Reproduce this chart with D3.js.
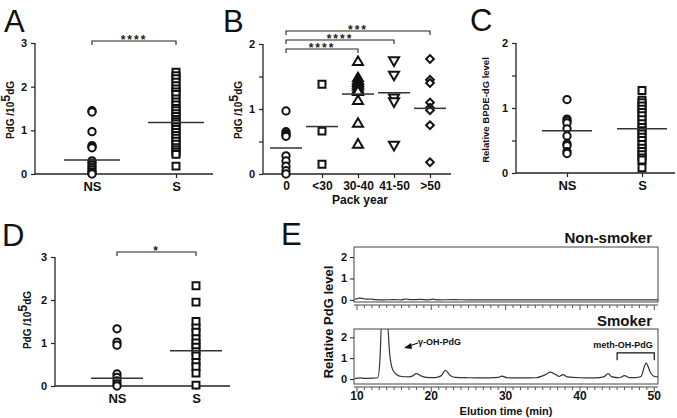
<!DOCTYPE html>
<html>
<head>
<meta charset="utf-8">
<script src="https://cdn.jsdelivr.net/npm/d3@7"></script>
<style>
  html, body { margin: 0; padding: 0; background: #fff; }
  svg { display: block; font-family: "Liberation Sans", Arial, Helvetica, sans-serif; }
  .tick line, .domain { stroke: #222; }
</style>
</head>
<body>
<svg id="fig" width="677" height="418"></svg>
<script>
// ---- panel A: PdG in NS vs S
const aCats = ["NS", "S"];
const aNS = [1.45, 1.42, 0.97, 0.65, 0.62, 0.6, 0.3, 0.25, 0.2, 0.15, 0.1, 0.05, 0.02, 0];
const aS = [2.33, 2.25, 2.18, 2.1, 2.02, 1.95, 1.88, 1.82, 1.72, 1.65, 1.58, 1.5, 1.45, 1.38, 1.32,
  1.25, 1.2, 1.15, 1.08, 1.02, 0.95, 0.88, 0.82, 0.75, 0.68, 0.6, 0.55, 0.5, 0.45, 0.18];
const aMeans = [0.32, 1.18];
const aBrackets = [["NS", "S", "****"]];

// ---- panel B: by pack year
const bCats = ["0", "<30", "30-40", "41-50", ">50"];
const b0 = [0.97, 0.65, 0.62, 0.6, 0.58, 0.28, 0.2, 0.12, 0.05, 0];
const bLt30 = [1.38, 0.66, 0.15];
const b3040 = [1.72, 1.47, 1.43, 1.4, 1.37, 1.34, 1.3, 1.26, 1.12, 0.77, 0.45];
const b4150 = [1.75, 1.53, 1.18, 1.12, 0.45];
const bGt50 = [1.77, 1.45, 1.4, 1.1, 1.02, 0.98, 0.75, 0.18];
const bMeans = [0.4, 0.73, 1.23, 1.25, 1.01];
const bBrackets = [["0", ">50", "***"], ["0", "41-50", "****"], ["0", "30-40", "****"]];

// ---- panel C: BPDE-dG
const cCats = ["NS", "S"];
const cNS = [1.13, 0.83, 0.8, 0.77, 0.68, 0.57, 0.45, 0.42, 0.33, 0.3];
const cS = [1.27, 1.12, 1.08, 1.03, 0.98, 0.93, 0.88, 0.82, 0.76, 0.7, 0.65, 0.6, 0.55, 0.5,
  0.44, 0.38, 0.33, 0.28, 0.23, 0.2, 0.08];
const cMeans = [0.65, 0.68];

// ---- panel D: PdG second cohort
const dCats = ["NS", "S"];
const dNS = [1.33, 1.02, 0.95, 0.28, 0.2, 0.12, 0.05, 0];
const dS = [2.33, 1.95, 1.5, 1.35, 1.25, 1.1, 1.0, 0.9, 0.8, 0.7, 0.55, 0.45, 0.3, 0.02];
const dMeans = [0.18, 0.82];
const dBrackets = [["NS", "S", "*"]];

// ---- panel E: chromatograms (time in min, relative level)
const eNonTime = [9.7, 10, 10.3, 10.7, 11.2, 11.8, 12.5, 13.5, 15, 16, 16.6, 17.2, 18.5, 19.5, 20.2, 21,
  23, 25, 27, 30, 33, 36, 39, 42, 45, 48, 50.5];
const eNonVal = [0.02, 0.05, 0.08, 0.07, 0.03, 0.04, 0.01, 0.0, 0.01, 0.0, 0.04, 0.01, 0.02, 0.0, 0.03,
  0.0, 0.01, 0.0, 0.0, 0.0, 0.0, 0.0, 0.0, 0.0, 0.0, 0.0, 0.0];
const eSmkTime = [9.7, 10.5, 11, 12, 12.8, 13.1, 13.3, 14.1, 14.4, 14.8, 15.3, 16, 17, 17.5, 18, 18.6,
  19.3, 20.5, 21.3, 21.9, 22.5, 23.2, 25, 27, 29, 29.5, 30.2, 32, 34, 35.3, 36, 36.8, 37.2, 37.7,
  38.3, 40, 42, 43.2, 43.8, 44.3, 45.3, 46, 46.6, 47.5, 48.2, 48.9, 49.5, 50, 50.5];
const eSmkVal = [0.02, 0.05, 0.03, 0.04, 0.06, 1.0, 2.6, 2.6, 1.2, 0.45, 0.22, 0.12, 0.1, 0.15, 0.26, 0.15,
  0.08, 0.07, 0.15, 0.42, 0.18, 0.08, 0.06, 0.05, 0.08, 0.14, 0.06, 0.05, 0.06, 0.2, 0.33, 0.2, 0.12, 0.21,
  0.1, 0.06, 0.05, 0.1, 0.26, 0.1, 0.06, 0.16, 0.07, 0.07, 0.12, 0.76, 0.3, 0.12, 0.1];
const eTicks = [10, 20, 30, 40, 50];
const eYTicks = [0, 1, 2];

const svg = d3.select("#fig");
const FONT = '"Liberation Sans", Arial, Helvetica, sans-serif';

function shape(kind) {
  if (kind === "circle") return d3.symbol(d3.symbolCircle, 42)();
  if (kind === "square") return d3.symbol(d3.symbolSquare, 48)();
  if (kind === "diamond") return d3.symbol(d3.symbolSquare, 30)();
  return d3.symbol(d3.symbolTriangle, 44)();
}
function rotation(kind) {
  if (kind === "diamond") return 45;
  if (kind === "down") return 180;
  return 0;
}

function panelLetter(text, x, y) {
  svg.append("text").attr("x", x).attr("y", y)
    .attr("font-size", 31).attr("font-family", FONT).attr("fill", "#111").text(text);
}

// rotated y title, parts = [text, shift] where shift moves the part up (superscript)
function yTitle(g, parts, x, y, size) {
  const t = g.append("text")
    .attr("transform", `translate(${x},${y}) rotate(-90)`)
    .attr("text-anchor", "middle")
    .attr("font-weight", "bold").attr("font-size", size).attr("fill", "#111");
  let prev = 0;
  parts.forEach(([s, shift]) => {
    const ts = t.append("tspan").text(s);
    const cur = shift || 0;
    if (cur !== prev) ts.attr("dy", prev - cur);
    if (cur) ts.attr("font-size", size * 1.25);
    prev = cur;
  });
}

function scatterPanel(cfg) {
  const g = svg.append("g");
  const x = d3.scalePoint().domain(cfg.cats).range(cfg.catRange);
  const y = d3.scaleLinear().domain([0, cfg.yMax]).range([cfg.y0, cfg.y1]);

  // axes
  const yAx = g.append("g").attr("transform", `translate(${cfg.axisX},0)`)
    .call(d3.axisLeft(y).tickValues(cfg.yTicks).tickFormat(d3.format("~g")).tickSize(4).tickSizeOuter(0));
  yAx.select(".domain").attr("d", `M0,${cfg.y0}V${cfg.y1}`).attr("stroke-width", 1.3);
  yAx.selectAll(".tick text").attr("font-size", 11).attr("font-weight", "bold")
    .attr("font-family", FONT).attr("fill", "#111").attr("dx", "-1");
  yAx.selectAll(".tick line").attr("stroke-width", 1.2);

  const xAx = g.append("g").attr("transform", `translate(0,${cfg.y0})`)
    .call(d3.axisBottom(x).tickSize(4).tickSizeOuter(0));
  xAx.select(".domain").attr("d", `M${cfg.axisX},0H${cfg.axisEnd}`).attr("stroke-width", 1.3);
  xAx.selectAll(".tick text").attr("font-size", cfg.xFont || 13).attr("font-weight", "bold")
    .attr("font-family", FONT).attr("fill", "#111").attr("dy", "0.78em");
  xAx.selectAll(".tick line").attr("stroke-width", 1.2);

  // points
  cfg.groups.forEach((grp, i) => {
    const cat = cfg.cats[i];
    g.append("g").selectAll("path").data(grp.values).join("path")
      .attr("d", shape(grp.kind))
      .attr("transform", d => `translate(${x(cat)},${y(d)}) rotate(${rotation(grp.kind)})`)
      .attr("fill", "#fff").attr("stroke", "#111").attr("stroke-width", 2);
  });

  // means
  g.append("g").selectAll("line").data(cfg.means).join("line")
    .attr("x1", (d, i) => x(cfg.cats[i]) - cfg.meanHalf)
    .attr("x2", (d, i) => x(cfg.cats[i]) + cfg.meanHalf)
    .attr("y1", d => y(d)).attr("y2", d => y(d))
    .attr("stroke", "#333").attr("stroke-width", 1.5);

  // significance brackets
  (cfg.brackets || []).forEach(([a, b, label], i) => {
    const by = cfg.bracketY[i];
    g.append("path")
      .attr("d", `M${x(a)},${by + 4}V${by}H${x(b)}V${by + 4}`)
      .attr("fill", "none").attr("stroke", "#222").attr("stroke-width", 1.1);
    g.append("text").attr("x", (x(a) + x(b)) / 2).attr("y", by + 3)
      .attr("text-anchor", "middle").attr("font-size", 12).attr("font-weight", "bold")
      .attr("letter-spacing", "2px").attr("fill", "#222").text(label);
  });

  yTitle(g, cfg.title, cfg.titleX, cfg.titleY, cfg.titleSize || 10);
  return { g, x, y };
}

const pdgTitle = [["PdG /10"], ["5", 4], ["dG"]];

// ---------- A
panelLetter("A", 4, 32);
scatterPanel({
  cats: aCats, catRange: [92, 176], axisX: 35, axisEnd: 213,
  y0: 174, y1: 43, yMax: 3, yTicks: [0, 1, 2, 3],
  groups: [{ values: aNS, kind: "circle" }, { values: aS, kind: "square" }],
  means: aMeans, meanHalf: 28,
  brackets: aBrackets, bracketY: [41],
  title: pdgTitle, titleX: 14, titleY: 110
});

// ---------- B
panelLetter("B", 223, 32);
const pb = scatterPanel({
  cats: bCats, catRange: [286, 430], axisX: 263, axisEnd: 451,
  y0: 174, y1: 44, yMax: 2, yTicks: [0, 0.5, 1, 1.5, 2],
  groups: [
    { values: b0, kind: "circle" }, { values: bLt30, kind: "square" },
    { values: b3040, kind: "up" }, { values: b4150, kind: "down" }, { values: bGt50, kind: "diamond" }
  ],
  means: bMeans, meanHalf: 16, xFont: 12,
  brackets: bBrackets, bracketY: [31, 40, 49],
  title: pdgTitle, titleX: 242, titleY: 110
});
pb.g.selectAll(".tick text").filter(d => d === 0.5 || d === 1.5).text("");
pb.g.append("text").attr("x", 360).attr("y", 204).attr("text-anchor", "middle")
  .attr("font-weight", "bold").attr("font-size", 12).attr("fill", "#111").text("Pack year");

// ---------- C
panelLetter("C", 470, 31);
const pc = scatterPanel({
  cats: cCats, catRange: [567, 642], axisX: 516, axisEnd: 675,
  y0: 173, y1: 43, yMax: 2, yTicks: [0, 0.5, 1, 1.5, 2],
  groups: [{ values: cNS, kind: "circle" }, { values: cS, kind: "square" }],
  means: cMeans, meanHalf: 25,
  title: [["Relative  BPDE-dG level"]], titleX: 489, titleY: 110, titleSize: 9.5
});
pc.g.selectAll(".tick text").filter(d => d === 0.5 || d === 1.5).text("");

// ---------- D
panelLetter("D", 2, 246);
scatterPanel({
  cats: dCats, catRange: [117, 196], axisX: 55, axisEnd: 230,
  y0: 386, y1: 257, yMax: 3, yTicks: [0, 1, 2, 3],
  groups: [{ values: dNS, kind: "circle" }, { values: dS, kind: "square" }],
  means: dMeans, meanHalf: 26,
  brackets: dBrackets, bracketY: [252],
  title: pdgTitle, titleX: 31, titleY: 320
});

// ---------- E
panelLetter("E", 281, 245);
const ex = d3.scaleLinear().domain([9.6, 50.5]).range([354, 658]);
const line = (yScale) => d3.line().x((d) => ex(d[0])).y((d) => yScale(d[1])).curve(d3.curveMonotoneX);

function chromPanel(times, vals, yDomain, yRange, label, labelY, showLabels, clipId) {
  const g = svg.append("g");
  const y = d3.scaleLinear().domain(yDomain).range(yRange);
  const top = yRange[1], bottom = yRange[0];
  g.append("clipPath").attr("id", clipId).append("rect")
    .attr("x", ex.range()[0]).attr("y", top).attr("width", ex.range()[1] - ex.range()[0]).attr("height", bottom - top);
  g.append("rect").attr("x", ex.range()[0]).attr("y", top)
    .attr("width", ex.range()[1] - ex.range()[0]).attr("height", bottom - top)
    .attr("fill", "none").attr("stroke", "#444").attr("stroke-width", 1);
  g.append("path").datum(times.map((t, i) => [t, vals[i]]))
    .attr("clip-path", `url(#${clipId})`)
    .attr("d", line(y)).attr("fill", "none").attr("stroke", "#333").attr("stroke-width", 1.2);

  const yAx = g.append("g").attr("transform", `translate(${ex.range()[0]},0)`)
    .call(d3.axisLeft(y).tickValues(eYTicks).tickFormat(d3.format("d")).tickSize(4).tickSizeOuter(0));
  yAx.select(".domain").remove();
  yAx.selectAll(".tick text").attr("font-size", 11).attr("font-weight", "bold")
    .attr("font-family", FONT).attr("fill", "#111");

  const ax = g.append("g").attr("transform", `translate(0,${bottom + 3})`);
  ax.append("line").attr("x1", ex.range()[0]).attr("x2", ex.range()[1])
    .attr("stroke", "#444").attr("stroke-width", 1);
  const minor = d3.range(10, 51, 1);
  ax.selectAll("line.m").data(minor).join("line").attr("class", "m")
    .attr("x1", ex).attr("x2", ex).attr("y1", 0).attr("y2", d => d % 10 === 0 ? 5 : 3)
    .attr("stroke", "#555").attr("stroke-width", 1);
  if (showLabels) {
    ax.selectAll("text").data(eTicks).join("text")
      .attr("x", ex).attr("y", 13).attr("text-anchor", "middle")
      .attr("font-weight", "bold").attr("font-size", 12).attr("fill", "#111").text(d => d);
  }
  g.append("text").attr("x", 652).attr("y", labelY).attr("text-anchor", "end")
    .attr("font-weight", "bold").attr("font-size", 15).attr("fill", "#111").text(label);
  return { g, y };
}

chromPanel(eNonTime, eNonVal, [-0.1, 2.47], [302, 247], "Non-smoker", 243, false, "clipTop");
const smk = chromPanel(eSmkTime, eSmkVal, [-0.24, 2.4], [384, 329], "Smoker", 326, true, "clipBot");

// annotations
svg.append("path").attr("d", "M406,347L418,343").attr("stroke", "#111").attr("stroke-width", 1.3);
svg.append("path").attr("d", "M404,348L411,343L412,349Z").attr("fill", "#111");
svg.append("text").attr("x", 418).attr("y", 345).attr("font-weight", "bold").attr("font-size", 9)
  .attr("fill", "#111").text("γ-OH-PdG");
svg.append("text").attr("x", 623).attr("y", 348).attr("text-anchor", "middle").attr("font-weight", "bold")
  .attr("font-size", 9).attr("fill", "#111").text("meth-OH-PdG");
svg.append("path")
  .attr("d", `M${ex(45)},${smk.y(0.9)}V${smk.y(1.25)}H${ex(50)}V${smk.y(0.9)}`)
  .attr("fill", "none").attr("stroke", "#111").attr("stroke-width", 1.2);

svg.append("text").attr("transform", "translate(333,322) rotate(-90)").attr("text-anchor", "middle")
  .attr("font-weight", "bold").attr("font-size", 13).attr("fill", "#111").text("Relative PdG level");
svg.append("text").attr("x", 506).attr("y", 415).attr("text-anchor", "middle")
  .attr("font-weight", "bold").attr("font-size", 11).attr("fill", "#111").text("Elution time (min)");
</script>
</body>
</html>
